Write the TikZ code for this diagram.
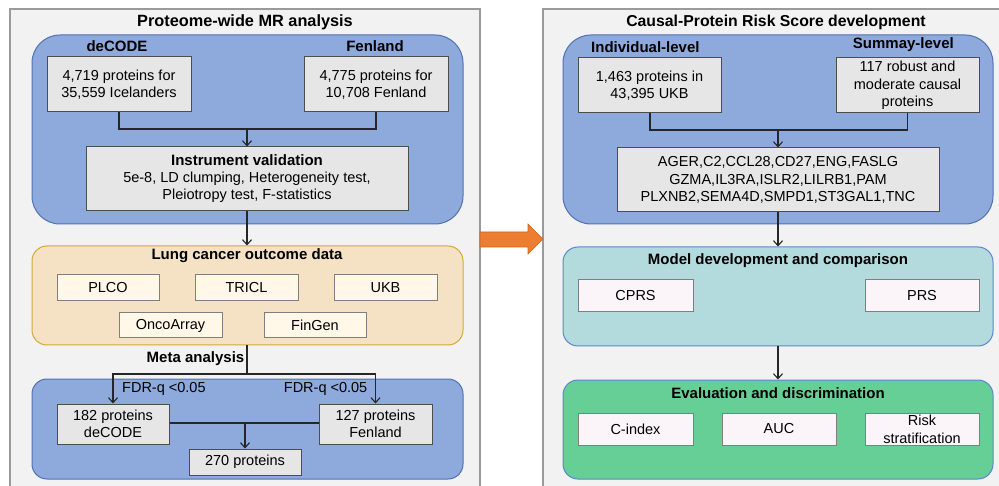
\documentclass[tikz,border=0pt]{standalone}
\usepackage{fontspec}
\setmainfont{Liberation Sans}
\usetikzlibrary{arrows.meta}
\definecolor{panelfill}{HTML}{F2F2F2}
\definecolor{panelline}{HTML}{9A9A9A}
\definecolor{bluefill}{HTML}{8EA9DB}
\definecolor{blueline}{HTML}{4F72B5}
\definecolor{tanfill}{HTML}{F5E2C4}
\definecolor{tanline}{HTML}{D4A93A}
\definecolor{creamfill}{HTML}{FFF8E8}
\definecolor{tealfill}{HTML}{B3DADD}
\definecolor{greenfill}{HTML}{66CF96}
\definecolor{softblue}{HTML}{5C86D0}
\definecolor{grayfill}{HTML}{E6E6E6}
\definecolor{grayline}{HTML}{4D4D4D}
\definecolor{whitefill}{HTML}{FBF5FA}
\definecolor{innerline}{HTML}{7F7F7F}
\definecolor{orangefill}{HTML}{ED7D31}
\definecolor{orangeline}{HTML}{C9651E}
\newcommand{\fsreg}{\fontsize{14.5}{17}\selectfont}
\newcommand{\fssub}{\fontsize{15}{18}\selectfont\bfseries}
\newcommand{\fstitle}{\fontsize{16.3}{19}\selectfont\bfseries}
\begin{document}
\begin{tikzpicture}[x=1pt,y=-1pt,
  panel/.style={draw=panelline, fill=panelfill, line width=1.3pt, inner sep=0pt},
  bigcont/.style={line width=1pt, inner sep=0pt, rounded corners=28pt},
  smallcont/.style={line width=1pt, inner sep=0pt, rounded corners=15pt},
  graybox/.style={draw=grayline, fill=grayfill, line width=1pt, inner sep=0pt, align=center, font=\fsreg},
  creambox/.style={draw=innerline, fill=creamfill, line width=1pt, inner sep=0pt, align=center, font=\fsreg},
  whitebox/.style={draw=innerline, fill=whitefill, line width=1pt, inner sep=0pt, align=center, font=\fsreg},
  sublabel/.style={font=\fssub, inner sep=0pt},
  ttl/.style={font=\fstitle, inner sep=0pt},
  lbl/.style={font=\fsreg, inner sep=0pt},
  con/.style={line width=1.1pt, draw=black!85},
  arr/.style={con, -{Straight Barb[length=5pt,width=9pt]}}
]
\useasboundingbox (0,0) rectangle (999,486);
\clip (0,0) rectangle (999,486);

% panels
\node[panel, minimum width=470pt, minimum height=490pt] (lpanel) at (245,254) {};
\node[panel, minimum width=500pt, minimum height=490pt] (rpanel) at (793,254) {};

% orange arrow
\filldraw[fill=orangefill, draw=orangeline, line width=0.6pt]
  (480,232) -- (528,232) -- (528,224) -- (543,239) -- (528,254) -- (528,247) -- (480,247) -- cycle;

% ================= LEFT PANEL =================
\node[ttl] (ltitle) at (245,22) {Proteome-wide MR analysis};

\node[bigcont, draw=blueline, fill=bluefill, minimum width=431pt, minimum height=189pt] (blueA) at (247.5,129.5) {};
\node[sublabel] (ldec) at (117,46) {deCODE};
\node[sublabel] (lfen) at (375,46) {Fenland};
\node[graybox, minimum width=144pt, minimum height=55pt] (dec) at (119,84.5) {4,719 proteins for\\35,559 Icelanders};
\node[graybox, minimum width=144pt, minimum height=55pt] (fen) at (376,84.5) {4,775 proteins for\\10,708 Fenland};
\node[graybox, minimum width=322pt, minimum height=64pt] (instr) at (247,179)
  {{\fssub Instrument validation}\\5e-8, LD clumping, Heterogeneity test,\\Pleiotropy test, F-statistics};

\coordinate (jA) at (247,129);
\coordinate (jAl) at (119,129);
\coordinate (jAr) at (376,129);
\draw[con] (dec.south) -- (jAl) -- (jAr) -- (fen.south);
\draw[arr] (jA) -- (instr.north);

\node[smallcont, draw=tanline, fill=tanfill, minimum width=431pt, minimum height=99pt] (orangeC) at (247.5,295.5) {};
\node[sublabel] (otitle) at (247,256) {Lung cancer outcome data};
\node[creambox, minimum width=102pt, minimum height=26pt] (plco) at (108,288) {PLCO};
\node[creambox, minimum width=103pt, minimum height=26pt] (tricl) at (246.5,288) {TRICL};
\node[creambox, minimum width=103pt, minimum height=26pt] (ukb) at (385.5,288) {UKB};
\node[creambox, minimum width=103pt, minimum height=25pt] (onco) at (170.5,325.5) {OncoArray};
\node[creambox, minimum width=102pt, minimum height=25pt] (fingen) at (315,325.5) {FinGen};

\draw[arr] (instr.south) -- (instr.south |- orangeC.north);

\node[smallcont, draw=blueline, fill=bluefill, minimum width=431pt, minimum height=100pt] (blueB) at (247.5,429) {};
\node[graybox, minimum width=112pt, minimum height=40pt] (p182) at (113,424) {182 proteins\\deCODE};
\node[graybox, minimum width=113pt, minimum height=40pt] (p127) at (375.5,424) {127 proteins\\Fenland};
\node[graybox, minimum width=112pt, minimum height=26pt] (p270) at (245,462) {270 proteins};

\coordinate (jB) at (247,374);
\coordinate (jBl) at (113,374);
\coordinate (jBr) at (375.5,374);
\draw[con] (orangeC.south -| jB) -- (jB);
\draw[arr] (jB) -- (jBl) -- (p182.north);
\draw[arr] (jB) -- (jBr) -- (p127.north);
\node[sublabel, anchor=east] (meta) at (244.5,359) {Meta analysis};
\node[lbl, anchor=west] (fdrl) at (122,389) {FDR-q <0.05};
\node[lbl, anchor=east] (fdrr) at (367.5,389) {FDR-q <0.05};

\coordinate (jC) at (245,423);
\draw[con] (p182.east |- jC) -- (p127.west |- jC);
\draw[arr] (jC) -- (p270.north);

% ================= RIGHT PANEL =================
\node[ttl, font=\fontsize{15.8}{19}\selectfont\bfseries] (rtitle) at (776,22) {Causal-Protein Risk Score development};

\node[bigcont, draw=blueline, fill=bluefill, minimum width=430pt, minimum height=189pt] (blueC) at (778,129.5) {};
\node[sublabel, anchor=west] (lind) at (591,47) {Individual-level};
\node[sublabel, anchor=east] (lsum) at (954,45) {Summay-level};
\node[graybox, minimum width=143pt, minimum height=55pt] (ind) at (649.5,85.5) {1,463 proteins in\\43,395 UKB};
\node[graybox, minimum width=143pt, minimum height=55pt, font=\fontsize{14.5}{17.5}\selectfont] (summ) at (907.5,85.5) {117 robust and\\moderate causal\\proteins};
\node[graybox, minimum width=322pt, minimum height=64pt, font=\fontsize{14.5}{17.5}\selectfont] (genes) at (778,180)
  {AGER,C2,CCL28,CD27,ENG,FASLG\\GZMA,IL3RA,ISLR2,LILRB1,PAM\\PLXNB2,SEMA4D,SMPD1,ST3GAL1,TNC};

\coordinate (jD) at (778,130);
\coordinate (jDl) at (650,130);
\coordinate (jDr) at (907.5,130);
\draw[con] (ind.south -| jDl) -- (jDl) -- (jDr) -- (summ.south -| jDr);
\draw[arr] (jD) -- (genes.north);

\node[smallcont, draw=softblue, fill=tealfill, minimum width=430pt, minimum height=99pt] (teal) at (778,296.5) {};
\node[sublabel] (ttitle) at (778,261) {Model development and comparison};
\node[whitebox, minimum width=115pt, minimum height=32pt] (cprs) at (635.5,296) {CPRS};
\node[whitebox, minimum width=114pt, minimum height=32pt] (prs) at (922,296) {PRS};

\draw[arr] (genes.south) -- (genes.south |- teal.north);

\node[smallcont, draw=softblue, fill=greenfill, minimum width=430pt, minimum height=99pt] (green) at (778,429.5) {};
\node[sublabel] (gtitle) at (778,393) {Evaluation and discrimination};
\node[whitebox, minimum width=115pt, minimum height=32pt] (cidx) at (635.5,429) {C-index};
\node[whitebox, minimum width=114pt, minimum height=32pt] (auc) at (779,429) {AUC};
\node[whitebox, minimum width=114pt, minimum height=32pt, font=\fontsize{14.5}{18}\selectfont] (risk) at (922,429) {Risk\\stratification};

\draw[arr] (teal.south) -- (teal.south |- green.north);
\end{tikzpicture}
\end{document}
